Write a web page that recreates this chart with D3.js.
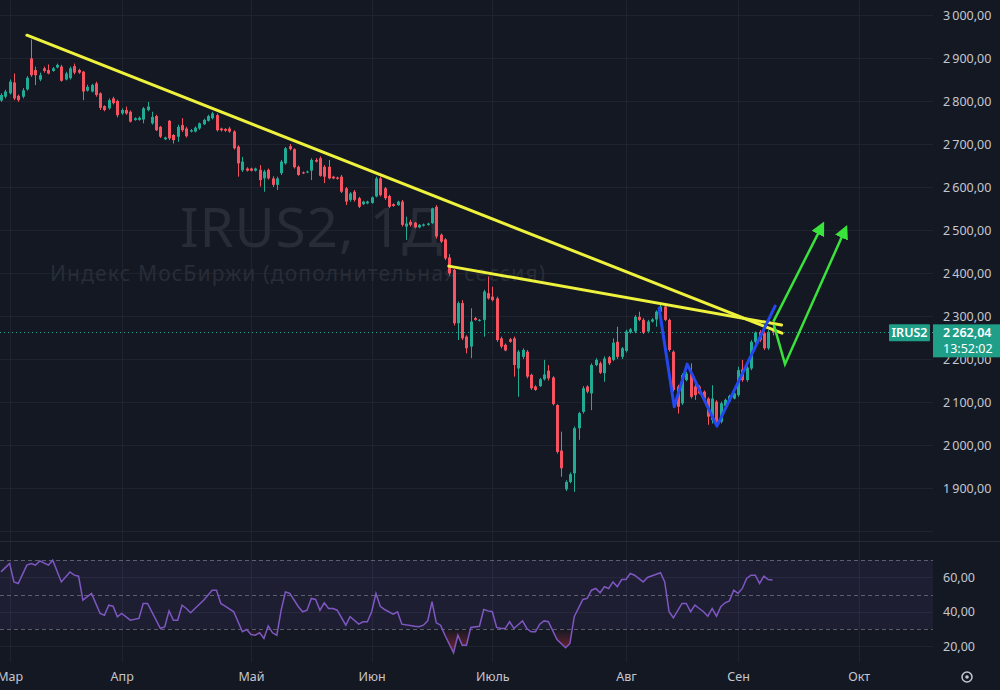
<!DOCTYPE html>
<html><head><meta charset="utf-8">
<script src="https://cdn.jsdelivr.net/npm/d3@7"></script>
<style>
html,body{margin:0;padding:0;background:#141823;}
svg{display:block;font-family:"Noto Sans","Open Sans",sans-serif;}
</style>
</head><body>
<svg id="chart" width="1000" height="690"></svg>
<script>
// ---- DATA ----
// [open, high, low, close] per daily bar
const ohlc = [
[2801,2818,2798,2814],[2810,2826,2806,2822],[2818,2850,2815,2845],[2843,2864,2802,2806],[2812,2815,2798,2802],
[2810,2830,2806,2825],[2827,2858,2824,2854],[2899,2943,2856,2860],[2872,2880,2837,2860],[2850,2866,2846,2860],
[2876,2880,2866,2870],[2872,2885,2862,2864],[2870,2879,2868,2876],[2878,2887,2876,2884],[2880,2884,2845,2847],
[2850,2868,2848,2864],[2853,2880,2850,2876],[2881,2887,2862,2866],[2872,2875,2863,2866],[2868,2870,2802,2822],
[2824,2838,2822,2833],[2822,2840,2820,2837],[2841,2845,2810,2814],[2818,2820,2779,2784],[2788,2790,2776,2779],
[2783,2806,2780,2802],[2806,2810,2792,2795],[2800,2803,2762,2767],[2771,2783,2768,2779],[2779,2787,2768,2771],
[2775,2778,2750,2752],[2756,2762,2754,2760],[2756,2764,2754,2761],[2757,2786,2748,2783],[2779,2798,2776,2787],
[2748,2775,2745,2763],[2765,2768,2730,2732],[2740,2742,2714,2717],[2711,2717,2709,2715],[2754,2756,2709,2713],
[2721,2723,2701,2709],[2717,2745,2705,2740],[2744,2760,2728,2732],[2736,2740,2715,2718],[2729,2735,2727,2732],
[2729,2741,2727,2738],[2736,2750,2733,2748],[2746,2759,2744,2756],[2754,2768,2752,2765],[2760,2775,2757,2771],
[2767,2771,2729,2732],[2736,2738,2729,2732],[2735,2737,2728,2731],[2736,2740,2726,2729],[2729,2732,2687,2690],
[2694,2697,2624,2655],[2639,2670,2635,2659],[2643,2646,2636,2638],[2643,2645,2636,2638],[2638,2645,2636,2643],
[2640,2651,2601,2616],[2620,2640,2589,2636],[2640,2643,2617,2620],[2620,2625,2600,2605],[2605,2624,2593,2620],
[2632,2663,2628,2659],[2655,2693,2652,2690],[2695,2700,2685,2688],[2688,2690,2643,2646],[2647,2650,2626,2628],
[2634,2636,2630,2632],[2634,2638,2632,2636],[2638,2667,2616,2663],[2663,2667,2657,2659],[2667,2671,2624,2626],
[2647,2651,2609,2624],[2647,2663,2618,2620],[2624,2626,2618,2620],[2622,2624,2617,2619],[2624,2628,2586,2589],
[2597,2600,2558,2566],[2570,2588,2566,2585],[2589,2593,2566,2570],[2574,2577,2551,2554],[2560,2568,2558,2566],
[2562,2568,2560,2566],[2563,2578,2561,2576],[2578,2624,2576,2620],[2620,2624,2578,2581],[2597,2600,2570,2574],
[2579,2582,2551,2554],[2560,2562,2554,2556],[2558,2568,2556,2566],[2566,2570,2508,2512],[2508,2531,2477,2515],
[2519,2524,2508,2512],[2517,2519,2504,2506],[2506,2514,2504,2512],[2510,2515,2508,2513],[2512,2517,2510,2515],
[2516,2552,2514,2550],[2554,2558,2480,2485],[2489,2492,2470,2473],[2478,2481,2430,2434],[2436,2444,2394,2399],
[2407,2410,2278,2283],[2283,2334,2244,2330],[2330,2337,2244,2248],[2252,2255,2213,2225],[2229,2318,2202,2287],
[2295,2298,2289,2291],[2289,2293,2287,2291],[2291,2361,2252,2357],[2353,2392,2338,2341],[2345,2368,2334,2337],
[2341,2345,2240,2244],[2248,2252,2225,2229],[2233,2236,2218,2220],[2246,2249,2238,2240],[2248,2252,2159,2186],
[2178,2221,2112,2217],[2205,2225,2200,2221],[2217,2221,2155,2159],[2163,2166,2128,2132],[2136,2139,2126,2128],
[2137,2156,2135,2153],[2153,2198,2150,2164],[2173,2186,2150,2155],[2157,2160,2092,2095],[2093,2095,1980,1984],
[1987,2031,1926,1946],[1897,1918,1893,1914],[1914,1936,1911,1932],[1934,2043,1891,2039],[2039,2077,2012,2074],
[2077,2137,2073,2132],[2136,2139,2120,2124],[2120,2190,2081,2186],[2186,2202,2183,2198],[2190,2194,2165,2168],
[2167,2206,2147,2201],[2204,2207,2186,2190],[2198,2248,2195,2238],[2240,2275,2200,2205],[2205,2228,2200,2225],
[2219,2268,2215,2264],[2262,2272,2259,2269],[2264,2302,2260,2298],[2298,2310,2288,2291],[2291,2295,2258,2261],
[2264,2291,2260,2287],[2287,2295,2285,2292],[2292,2313,2275,2310],[2310,2330,2306,2322],[2322,2328,2288,2291],
[2291,2294,2217,2221],[2217,2220,2124,2128],[2136,2140,2073,2089],[2097,2167,2093,2163],[2151,2170,2148,2166],
[2166,2190,2108,2112],[2136,2151,2105,2116],[2136,2139,2118,2120],[2124,2127,2106,2108],[2108,2111,2047,2066],
[2058,2139,2050,2108],[2101,2104,2050,2054],[2054,2101,2050,2097],[2091,2108,2089,2105],[2101,2117,2099,2114],
[2108,2123,2106,2120],[2116,2182,2112,2174],[2176,2198,2147,2151],[2151,2184,2147,2180],[2178,2244,2174,2240],
[2240,2264,2236,2261],[2263,2267,2240,2244],[2260,2264,2221,2225],[2225,2267,2221,2263],[2270,2276,2255,2262.04]
];
// RSI readings [bar index, value]
const rsi = [
[0,63.1],[2,68.0],[3,57.3],[4,56.4],[6,67.0],[7,68.0],[8,67.0],[9,69.5],[11,67.0],[12,69.9],[14,57.3],[16,63.1],
[17,61.2],[18,60.6],[19,46.7],[21,50.6],[23,39.0],[24,38.0],[25,43.8],[26,43.2],[27,37.1],[28,39.0],[30,35.1],
[32,36.1],[33,44.8],[34,44.8],[37,30.3],[38,31.3],[39,40.5],[40,35.1],[41,35.1],[42,43.8],[43,41.9],[44,39.4],
[45,41.9],[47,46.7],[49,52.5],[50,52.5],[51,44.8],[52,43.2],[54,40.0],[56,28.4],[57,29.7],[58,26.8],[59,26.4],
[60,27.8],[61,24.5],[62,31.7],[63,27.8],[64,26.4],[65,40.9],[66,51.5],[67,50.6],[69,42.9],[70,40.0],[71,40.9],
[72,47.7],[73,47.1],[74,40.9],[75,45.2],[76,41.9],[77,41.9],[78,40.9],[80,32.2],[81,37.1],[83,32.8],[84,34.2],
[85,34.2],[86,40.0],[87,50.6],[88,43.2],[89,41.3],[91,38.6],[92,40.0],[93,32.8],[96,31.6],[97,31.3],[98,32.2],
[99,34.7],[100,45.8],[101,33.6],[102,32.2],[103,26.4],[105,16.2],[106,26.4],[107,20.6],[108,20.6],[109,30.9],
[111,31.6],[112,41.3],[113,40.5],[114,40.0],[115,30.9],[116,30.3],[117,30.3],[118,34.2],[119,30.3],[121,34.7],
[122,30.3],[123,28.4],[124,28.4],[125,32.8],[126,34.7],[127,34.2],[129,23.9],[131,19.1],[132,21.6],[133,37.1],
[135,47.1],[136,47.7],[137,52.5],[138,53.5],[139,51.0],[140,54.5],[141,53.5],[142,57.3],[143,54.5],[144,58.7],
[145,58.7],[146,62.2],[147,61.2],[149,57.3],[150,59.9],[153,62.6],[154,57.3],[155,40.0],[156,36.5],[158,44.8],
[159,44.8],[160,40.0],[161,43.8],[162,41.9],[163,40.0],[164,37.4],[165,41.9],[166,37.4],[167,42.9],[168,45.2],
[169,46.3],[170,52.5],[171,50.6],[172,53.5],[173,59.3],[174,61.2],[175,61.2],[176,56.4],[177,60.6],[178,58.7],[179,58.4]
];
const priceTicks = [1900,2000,2100,2200,2300,2400,2500,2600,2700,2800,2900,3000];
const priceGrid = [1800,1900,2000,2100,2200,2300,2400,2500,2600,2700,2800,2900,3000];
const rsiTicks = [20,40,60];
const rsiLevels = [30,50,70];
const monthLabels = ["Мар","Апр","Май","Июн","Июль","Авг","Сен","Окт"];
const monthIndex = [2,28,58,86,114,145,171,199];
const lastPrice = 2262.04;
const symbol = "IRUS2";
const timer = "13:52:02";
const title = "IRUS2, 1Д";
const subtitle = "Индекс МосБиржи (дополнительная сессия)";
// drawings: [bar index, price]
const trendLine1 = [[6.0,2953],[181.2,2260]];
const trendLine2 = [[103.9,2416],[181.1,2279]];
const zigzag = [[152.7,2318],[156.2,2089],[159.2,2188],[166.1,2044],[179.6,2323]];
const arrow1 = [[179.2,2287],[190.4,2508]];
const arrow2 = [[179.3,2280],[181.9,2188],[195.8,2500]];

// ---- CHART ----
const W = 1000, H = 690, plotR = 933;
const up = "#22ab94", down = "#f7525f";
const svg = d3.select("#chart");
svg.append("rect").attr("width",W).attr("height",H).attr("fill","#141823");

const x = d3.scaleLinear().domain([0,179]).range([1,772.5]);
const y = d3.scaleLinear().domain([1900,3000]).range([488,15]);
const yr = d3.scaleLinear().domain([30,70]).range([629,560]);

const loc = d3.formatLocale({decimal:",", thousands:"\u2009", grouping:[3], currency:["",""]});
const fmt = loc.format(",.2f");

const defs = svg.append("defs");
defs.append("clipPath").attr("id","mainClip").append("rect").attr("x",0).attr("y",0).attr("width",plotR).attr("height",541);
defs.append("clipPath").attr("id","rsiClip").append("rect").attr("x",0).attr("y",542).attr("width",plotR).attr("height",120);
defs.append("clipPath").attr("id","osClip").append("rect").attr("x",0).attr("y",yr(30)).attr("width",plotR).attr("height",60);
const grad = defs.append("linearGradient").attr("id","osGrad").attr("gradientUnits","userSpaceOnUse")
  .attr("x1",0).attr("x2",0).attr("y1",yr(30)).attr("y2",yr(0));
grad.append("stop").attr("offset",0).attr("stop-color","#f23645").attr("stop-opacity",0);
grad.append("stop").attr("offset",1).attr("stop-color","#f23645").attr("stop-opacity",1);
defs.append("marker").attr("id","arrowHead").attr("viewBox","0 0 10 10")
  .attr("refX",6).attr("refY",5).attr("markerWidth",14).attr("markerHeight",14)
  .attr("markerUnits","userSpaceOnUse").attr("orient","auto")
  .append("path").attr("d","M0,0 L10,5 L0,10 z").attr("fill","#3ae23c");

// grid
const grid = svg.append("g");
grid.selectAll(".hg").data(priceGrid).join("line")
  .attr("x1",0).attr("x2",plotR).attr("y1",d=>Math.round(y(d))+0.5).attr("y2",d=>Math.round(y(d))+0.5)
  .attr("stroke","#1f2330").attr("stroke-width",1);
grid.selectAll(".vg").data(monthIndex).join("line")
  .attr("x1",d=>Math.round(x(d))+0.5).attr("x2",d=>Math.round(x(d))+0.5).attr("y1",0).attr("y2",662)
  .attr("stroke","#1f2330").attr("stroke-width",1);
grid.selectAll(".rg").data(rsiTicks).join("line")
  .attr("x1",0).attr("x2",plotR).attr("y1",d=>Math.round(yr(d))+0.5).attr("y2",d=>Math.round(yr(d))+0.5)
  .attr("stroke","#1f2330").attr("stroke-width",1);

// pane separator
svg.append("line").attr("x1",0).attr("x2",W).attr("y1",541.5).attr("y2",541.5).attr("stroke","#262a35");

// watermark
svg.append("text").attr("x",180).attr("y",247).attr("font-size",55).attr("fill","#282c37")
  .attr("textLength",262).text(title);
svg.append("text").attr("x",50).attr("y",281).attr("font-size",21).attr("fill","#282c37")
  .attr("textLength",495).text(subtitle);

// current price dotted line
svg.append("line").attr("x1",0).attr("x2",plotR).attr("y1",Math.round(y(lastPrice))+0.5).attr("y2",Math.round(y(lastPrice))+0.5)
  .attr("stroke",up).attr("stroke-width",1).attr("stroke-dasharray","1,3");

// candles
const cg = svg.append("g").attr("clip-path","url(#mainClip)");
const bars = cg.selectAll("g.c").data(ohlc).join("g");
bars.append("line")
  .attr("x1",(d,i)=>Math.round(x(i))+0.5).attr("x2",(d,i)=>Math.round(x(i))+0.5)
  .attr("y1",d=>y(d[1])).attr("y2",d=>y(d[2]))
  .attr("stroke",d=>d[3]>=d[0]?up:down).attr("stroke-width",1);
bars.append("rect")
  .attr("x",(d,i)=>Math.round(x(i))-1).attr("width",3)
  .attr("y",d=>y(Math.max(d[0],d[3])))
  .attr("height",d=>Math.max(1,Math.abs(y(d[0])-y(d[3]))))
  .attr("fill",d=>d[3]>=d[0]?up:down);

// drawings
const line = d3.line().x(d=>x(d[0])).y(d=>y(d[1]));
const dg = svg.append("g").attr("clip-path","url(#mainClip)");
[trendLine1,trendLine2].forEach(t=>{
  dg.append("path").attr("d",line(t)).attr("fill","none").attr("stroke","#eef23c")
    .attr("stroke-width",3).attr("stroke-linecap","round");
});
dg.append("path").attr("d",line(zigzag)).attr("fill","none").attr("stroke","#2548ee")
  .attr("stroke-width",3).attr("stroke-linejoin","round").attr("stroke-linecap","round");
[arrow1,arrow2].forEach(a=>{
  dg.append("path").attr("d",line(a)).attr("fill","none").attr("stroke","#3ae23c")
    .attr("stroke-width",2.5).attr("stroke-linejoin","miter").attr("marker-end","url(#arrowHead)");
});

// RSI pane
const rg = svg.append("g").attr("clip-path","url(#rsiClip)");
rg.append("rect").attr("x",0).attr("width",plotR).attr("y",yr(70)).attr("height",yr(30)-yr(70))
  .attr("fill","#7e57c2").attr("fill-opacity",0.1);
rg.selectAll(".lvl").data(rsiLevels).join("line")
  .attr("x1",0).attr("x2",plotR).attr("y1",d=>Math.round(yr(d))+0.5).attr("y2",d=>Math.round(yr(d))+0.5)
  .attr("stroke","#787b86").attr("stroke-opacity",0.7).attr("stroke-dasharray","4,3");
const rx = d=>x(d[0]), ry = d=>yr(d[1]);
rg.append("path").datum(rsi).attr("clip-path","url(#osClip)")
  .attr("d",d3.area().x(rx).y0(yr(30)).y1(ry))
  .attr("fill","url(#osGrad)");
rg.append("path").datum(rsi).attr("d",d3.line().x(rx).y(ry))
  .attr("fill","none").attr("stroke","#7e57c2").attr("stroke-width",1.5);

// price axis
const axisColor = "#c4c7cf";
const pAxis = svg.append("g").attr("transform",`translate(${plotR},0)`)
  .call(d3.axisRight(y).tickValues(priceTicks).tickSize(0).tickPadding(10).tickFormat(fmt));
pAxis.select(".domain").remove();
pAxis.selectAll("text").attr("fill",axisColor).attr("font-size",12.5).attr("font-family","Noto Sans, sans-serif");

const rAxis = svg.append("g").attr("transform",`translate(${plotR},0)`)
  .call(d3.axisRight(yr).tickValues(rsiTicks).tickSize(0).tickPadding(10).tickFormat(fmt));
rAxis.select(".domain").remove();
rAxis.selectAll("text").attr("fill",axisColor).attr("font-size",12.5).attr("font-family","Noto Sans, sans-serif");

// time axis
const tAxis = svg.append("g").attr("transform","translate(0,662)")
  .call(d3.axisBottom(x).tickValues(monthIndex).tickSize(0).tickPadding(10).tickFormat((d,i)=>monthLabels[i]));
tAxis.select(".domain").remove();
tAxis.selectAll("text").attr("fill",axisColor).attr("font-size",12.5).attr("font-family","Noto Sans, sans-serif");

// last price labels
const ly = y(lastPrice);
svg.append("rect").attr("x",889).attr("y",ly-8).attr("width",41).attr("height",17).attr("rx",1).attr("fill","#1f9e88");
svg.append("text").attr("x",909.5).attr("y",ly+5).attr("text-anchor","middle").attr("fill","#fff")
  .attr("font-size",12.5).attr("font-weight",600).text(symbol);
svg.append("rect").attr("x",933).attr("y",ly-8).attr("width",67).attr("height",33).attr("fill","#1f9e88");
svg.append("text").attr("x",943).attr("y",ly+5).attr("fill","#fff").attr("font-size",12.5).attr("font-weight",600).text(fmt(lastPrice));
svg.append("text").attr("x",943).attr("y",ly+21).attr("fill","#fff").attr("font-size",12.5).text(timer);

// settings gear icon
const gi = svg.append("g").attr("transform","translate(967,677)");
gi.append("circle").attr("r",5).attr("fill","none").attr("stroke",axisColor).attr("stroke-width",1.5);
gi.append("circle").attr("r",1.8).attr("fill",axisColor);
</script>
</body></html>
